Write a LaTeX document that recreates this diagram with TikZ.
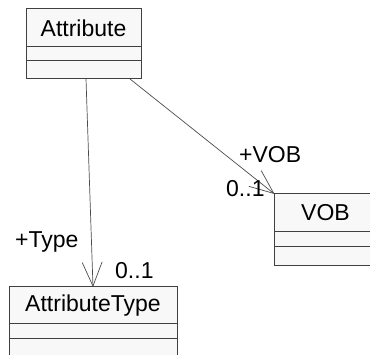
\documentclass[tikz,border=0pt]{standalone}
\usepackage{fontspec}
\setmainfont{Liberation Sans}
\usepackage{xcolor}
\usepackage{tikz}
\usetikzlibrary{arrows.meta, positioning}

\definecolor{boxfill}{HTML}{F8F8F8}
\definecolor{boxline}{HTML}{404040}

\begin{document}
\begin{tikzpicture}[
    x=1pt, y=-1pt,
    cls/.style={draw=boxline, fill=boxfill, line width=1pt, inner sep=0pt, outer sep=0pt, align=center, font=\fontsize{23}{26}\selectfont},
    slot/.style={cls, font=\small},
    assoc/.style={draw=black!70, line width=0.7pt, -{Straight Barb[length=24pt, width=20pt]}},
    role/.style={anchor=base west, inner sep=0pt, font=\fontsize{23}{26}\selectfont}
]
    \clip (0,0) rectangle (370,355);

    \node[cls, minimum width=115pt, minimum height=38pt] (attr) at (83.5,28) {Attribute};
    \node[slot, minimum width=115pt, minimum height=14pt, below=0pt of attr] (attr-a) {};
    \node[slot, minimum width=115pt, minimum height=18pt, below=0pt of attr-a] (attr-o) {};

    \node[cls, minimum width=102pt, minimum height=38pt] (vob) at (325.5,213) {VOB};
    \node[slot, minimum width=102pt, minimum height=15pt, below=0pt of vob] (vob-a) {};
    \node[slot, minimum width=102pt, minimum height=19pt, below=0pt of vob-a] (vob-o) {};

    \node[cls, minimum width=168pt, minimum height=37pt] (atype) at (93,305.5) {AttributeType};
    \node[slot, minimum width=168pt, minimum height=15pt, below=0pt of atype] (atype-a) {};
    \node[slot, minimum width=168pt, minimum height=20pt, below=0pt of atype-a] (atype-o) {};

    \draw[assoc] ([xshift=2.5pt]attr-o.south) -- (atype.north);
    \draw[assoc] ([xshift=-11pt]attr-o.south east) -- (vob.north west);

    \node[role] (vob-role) at (239,163) {+VOB};
    \node[role] (vob-mult) at (226,197) {0..1};
    \node[role] (type-role) at (15,248) {+Type};
    \node[role] (type-mult) at (115,279) {0..1};
\end{tikzpicture}
\end{document}
